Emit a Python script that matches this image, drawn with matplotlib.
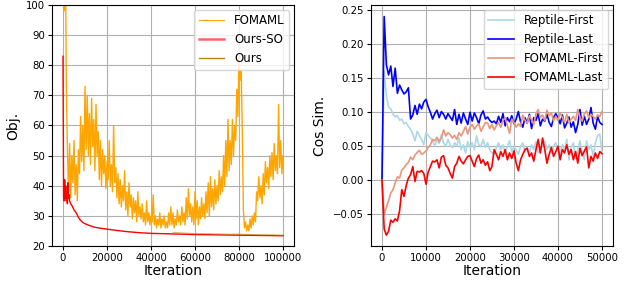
import matplotlib
matplotlib.use('Agg')
import matplotlib.pyplot as plt
from matplotlib.lines import Line2D

# left panel: objective vs iteration
fomaml_iter = [500 * i for i in range(201)]
fomaml_obj = [112, 98, 125, 74, 52, 38, 54, 36, 50, 41,
              55, 37, 47, 35, 52, 44, 63, 48, 60, 45,
              73, 52, 70, 50, 64, 47, 69, 53, 62, 45,
              67, 50, 58, 42, 55, 40, 52, 44, 50, 39,
              48, 42, 55, 40, 47, 38, 60, 41, 46, 36,
              44, 34, 42, 33, 40, 35, 45, 32, 38, 30,
              41, 33, 37, 29, 36, 31, 35, 28, 38, 30,
              33, 29, 34, 28, 31, 27, 35, 28, 31, 27,
              30, 28, 37, 27, 30, 26, 29, 27, 31, 26,
              29, 27, 30, 26, 28, 26, 31, 27, 33, 27,
              31, 26, 29, 27, 32, 28, 30, 27, 33, 28,
              31, 27, 36, 29, 39, 30, 34, 28, 33, 27,
              38, 29, 35, 27, 33, 29, 36, 30, 34, 29,
              38, 31, 41, 30, 43, 33, 39, 32, 42, 34,
              40, 35, 45, 37, 43, 38, 50, 40, 55, 43,
              62, 45, 55, 47, 62, 50, 60, 55, 72, 63,
              83, 75, 78, 58, 32, 26, 28, 25, 27, 25,
              29, 26, 30, 27, 31, 28, 38, 35, 43, 36,
              40, 34, 44, 37, 48, 41, 46, 39, 50, 43,
              51, 42, 54, 45, 50, 44, 67, 46, 55, 44,
              50]

so_iter = [0, 250, 500, 750, 1000, 1250, 1500, 1750, 2000, 2250, 2500, 2750,
           3000, 3500, 4000, 5000, 6000, 7000, 8000, 9000, 10000, 12000, 14000,
           16000, 18000, 20000, 25000, 30000, 35000, 40000, 45000, 50000,
           60000, 70000, 80000, 90000, 100000]
so_obj = [83, 36, 35, 42, 36, 40, 35, 38, 34, 41, 36, 37,
          35, 34, 33.5, 32, 31, 29.5, 28.5, 27.8, 27.4, 26.8, 26.3,
          26.0, 25.8, 25.6, 25.1, 24.7, 24.4, 24.2, 24.1, 24.0,
          23.8, 23.7, 23.6, 23.5, 23.4]

ours_iter = [50000, 55000, 60000, 65000, 70000, 75000, 80000, 85000, 90000, 95000, 100000]
ours_obj = [24.5, 24.3, 24.1, 24.1, 24.0, 23.9, 23.9, 23.8, 23.7, 23.7, 23.6]

# right panel: cosine similarity vs iteration
cos_iter = [500 * i for i in range(101)]
reptile_first = [0.0, 0.160, 0.125, 0.108, 0.105, 0.097, 0.093, 0.095, 0.088, 0.090,
                 0.083, 0.085, 0.079, 0.075, 0.068, 0.058, 0.072, 0.066, 0.060, 0.052,
                 0.070, 0.066, 0.062, 0.058, 0.050, 0.060, 0.054, 0.067, 0.055, 0.050,
                 0.060, 0.052, 0.048, 0.055, 0.050, 0.062, 0.045, 0.052, 0.040, 0.057,
                 0.048, 0.055, 0.045, 0.065, 0.052, 0.050, 0.060, 0.048, 0.055, 0.045,
                 0.040, 0.038, 0.048, 0.055, 0.045, 0.052, 0.040, 0.050, 0.058, 0.042,
                 0.050, 0.045, 0.038, 0.050, 0.055, 0.042, 0.048, 0.040, 0.052, 0.045,
                 0.057, 0.040, 0.048, 0.052, 0.058, 0.045, 0.052, 0.040, 0.050, 0.055,
                 0.045, 0.038, 0.052, 0.045, 0.060, 0.030, 0.048, 0.055, 0.032, 0.045,
                 0.058, 0.040, 0.030, 0.058, 0.045, 0.052, 0.035, 0.055, 0.065, 0.068,
                 0.040]
reptile_last = [0.0, 0.241, 0.170, 0.155, 0.168, 0.138, 0.165, 0.128, 0.140, 0.133,
                0.127, 0.130, 0.136, 0.090, 0.096, 0.110, 0.097, 0.112, 0.105, 0.115,
                0.119, 0.108, 0.100, 0.090, 0.098, 0.103, 0.092, 0.101, 0.097, 0.090,
                0.098, 0.093, 0.088, 0.104, 0.082, 0.097, 0.084, 0.099, 0.090, 0.082,
                0.100, 0.087, 0.099, 0.092, 0.083, 0.096, 0.102, 0.090, 0.093, 0.088,
                0.085, 0.087, 0.083, 0.094, 0.085, 0.098, 0.080, 0.092, 0.086, 0.095,
                0.083, 0.090, 0.101, 0.086, 0.078, 0.092, 0.084, 0.097, 0.076, 0.092,
                0.088, 0.098, 0.080, 0.090, 0.087, 0.097, 0.085, 0.079, 0.092, 0.098,
                0.092, 0.083, 0.096, 0.077, 0.084, 0.093, 0.078, 0.086, 0.070, 0.082,
                0.104, 0.081, 0.094, 0.082, 0.090, 0.107, 0.084, 0.075, 0.094, 0.085,
                0.082]
fomaml_first = [0.0, -0.051, -0.040, -0.030, -0.019, -0.014, -0.004, 0.005, 0.003, 0.015,
                0.018, 0.023, 0.026, 0.034, 0.030, 0.037, 0.041, 0.044, 0.038, 0.040,
                0.043, 0.048, 0.052, 0.060, 0.058, 0.063, 0.057, 0.062, 0.074, 0.065,
                0.070, 0.067, 0.062, 0.066, 0.060, 0.070, 0.065, 0.072, 0.079, 0.068,
                0.078, 0.082, 0.075, 0.080, 0.083, 0.072, 0.078, 0.085, 0.084, 0.076,
                0.082, 0.074, 0.080, 0.085, 0.078, 0.088, 0.092, 0.080, 0.069, 0.090,
                0.085, 0.078, 0.083, 0.079, 0.096, 0.088, 0.084, 0.095, 0.089, 0.082,
                0.098, 0.104, 0.092, 0.096, 0.088, 0.103, 0.095, 0.099, 0.087, 0.094,
                0.088, 0.099, 0.092, 0.085, 0.097, 0.084, 0.090, 0.094, 0.088, 0.104,
                0.093, 0.087, 0.098, 0.102, 0.092, 0.097, 0.094, 0.090, 0.096, 0.094,
                0.101]
fomaml_last = [0.0, -0.072, -0.081, -0.075, -0.059, -0.062, -0.057, -0.060, -0.045, -0.014,
               -0.024, -0.008, 0.003, 0.008, 0.020, -0.002, 0.013, 0.012, 0.014, 0.010,
               -0.006, 0.012, 0.020, 0.028, 0.027, 0.030, 0.018, 0.034, 0.036, 0.022,
               0.018, 0.010, 0.003, 0.020, 0.025, 0.035, 0.028, 0.024, 0.030, 0.035,
               0.036, 0.028, 0.020, 0.032, 0.037, 0.025, 0.030, 0.022, 0.027, 0.014,
               0.020, 0.045, 0.038, 0.030, 0.042, 0.035, 0.045, 0.030, 0.040, 0.032,
               0.043, 0.025, 0.014, 0.030, 0.038, 0.045, 0.047, 0.035, 0.040, 0.028,
               0.045, 0.060, 0.040, 0.062, 0.045, 0.025, 0.038, 0.048, 0.035, 0.042,
               0.050, 0.030, 0.045, 0.040, 0.052, 0.038, 0.045, 0.030, 0.042, 0.025,
               0.047, 0.036, 0.043, 0.049, 0.018, 0.035, 0.028, 0.040, 0.032, 0.042,
               0.039]

tick_fs = 7.3
label_fs = 10
legend_fs = 8.5

fig = plt.figure(figsize=(6.29, 2.84), dpi=100)
ax1 = fig.add_axes([0.0827, 0.1338, 0.3847, 0.8486])
ax2 = fig.add_axes([0.5898, 0.1338, 0.3847, 0.8486])

ax1.plot(fomaml_iter, fomaml_obj, color='orange', lw=1.0)
ax1.plot(so_iter, so_obj, color='red', lw=1.0)
ax1.plot(ours_iter, ours_obj, color='darkgoldenrod', lw=0.9, alpha=0.55)
handles = [Line2D([], [], color='orange', lw=0.8),
           Line2D([], [], color='red', lw=1.8, alpha=0.6),
           Line2D([], [], color='darkgoldenrod', lw=1.0)]
ax1.set_ylim(20, 100)
ax1.set_xlim(-5000, 105000)
ax1.set_xticks([0, 20000, 40000, 60000, 80000, 100000])
ax1.set_xlabel('Iteration', fontsize=label_fs, labelpad=1)
ax1.set_ylabel('Obj.', fontsize=label_fs)
ax1.tick_params(labelsize=tick_fs, length=3, pad=2)
ax1.grid()
ax1.legend(handles, ['FOMAML', 'Ours-SO', 'Ours'], loc='upper right',
           fontsize=legend_fs, handlelength=2.2, borderaxespad=0.4)

ax2.plot(cos_iter, reptile_first, color='lightblue', lw=1.2, label='Reptile-First')
ax2.plot(cos_iter, reptile_last, color='blue', lw=1.2, label='Reptile-Last')
ax2.plot(cos_iter, fomaml_first, color='darksalmon', lw=1.2, label='FOMAML-First')
ax2.plot(cos_iter, fomaml_last, color='red', lw=1.2, label='FOMAML-Last')
ax2.set_ylim(-0.097, 0.258)
ax2.set_xlim(-2500, 52500)
ax2.set_xticks([0, 10000, 20000, 30000, 40000, 50000])
ax2.set_yticks([-0.05, 0.0, 0.05, 0.10, 0.15, 0.20, 0.25])
ax2.set_xlabel('Iteration', fontsize=label_fs, labelpad=1)
ax2.set_ylabel('Cos Sim.', fontsize=label_fs)
ax2.tick_params(labelsize=tick_fs, length=3, pad=2)
ax2.grid()
ax2.legend(loc='upper right', fontsize=legend_fs, handlelength=2.2, borderaxespad=0.4)

fig.savefig('out.png', dpi=100)
